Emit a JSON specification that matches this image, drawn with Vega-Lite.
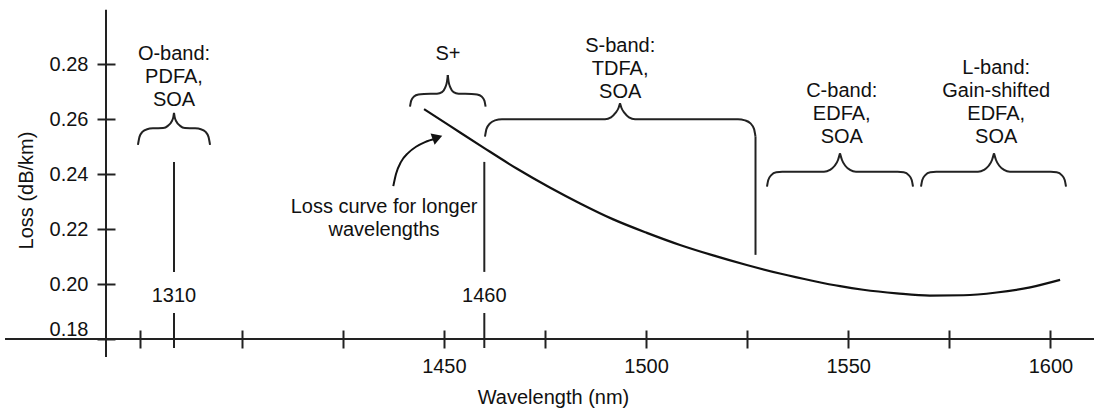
{
  "$schema": "https://vega.github.io/schema/vega-lite/v6.json",
  "width": 988,
  "height": 330,
  "autosize": {"type": "none"},
  "padding": {"left": 106, "top": 9, "right": 0, "bottom": 74},
  "background": "white",
  "config": {"view": {"stroke": null}, "font": "Liberation Sans"},
  "datasets": {
    "curve": [
      {"wavelength": 1445.1, "loss": 0.2636},
      {"wavelength": 1451.5, "loss": 0.2575},
      {"wavelength": 1459.8, "loss": 0.2496},
      {"wavelength": 1468.0, "loss": 0.2420},
      {"wavelength": 1476.2, "loss": 0.2351},
      {"wavelength": 1483.7, "loss": 0.2293},
      {"wavelength": 1491.9, "loss": 0.2235},
      {"wavelength": 1500.2, "loss": 0.2186},
      {"wavelength": 1508.4, "loss": 0.2142},
      {"wavelength": 1516.6, "loss": 0.2104},
      {"wavelength": 1524.9, "loss": 0.2069},
      {"wavelength": 1533.1, "loss": 0.2038},
      {"wavelength": 1541.4, "loss": 0.2011},
      {"wavelength": 1548.0, "loss": 0.1992},
      {"wavelength": 1553.7, "loss": 0.1979},
      {"wavelength": 1562.0, "loss": 0.1966},
      {"wavelength": 1570.2, "loss": 0.1958},
      {"wavelength": 1578.5, "loss": 0.1959},
      {"wavelength": 1586.7, "loss": 0.1969},
      {"wavelength": 1595.0, "loss": 0.1988},
      {"wavelength": 1602.4, "loss": 0.2015}
    ],
    "braces": [
      {"part": "O-L", "i": 0, "wavelength": 1299.4, "loss": 0.2506},
      {"part": "O-L", "i": 1, "wavelength": 1299.85, "loss": 0.2535},
      {"part": "O-L", "i": 2, "wavelength": 1300.7, "loss": 0.2553},
      {"part": "O-L", "i": 3, "wavelength": 1302.1, "loss": 0.2563},
      {"part": "O-L", "i": 4, "wavelength": 1303.8, "loss": 0.2566},
      {"part": "O-L", "i": 5, "wavelength": 1306.8, "loss": 0.2567},
      {"part": "O-L", "i": 6, "wavelength": 1308.2, "loss": 0.2575},
      {"part": "O-L", "i": 7, "wavelength": 1309.3, "loss": 0.2591},
      {"part": "O-L", "i": 8, "wavelength": 1309.8, "loss": 0.2607},
      {"part": "O-L", "i": 9, "wavelength": 1310.0, "loss": 0.2622},
      {"part": "O-R", "i": 0, "wavelength": 1310.0, "loss": 0.2622},
      {"part": "O-R", "i": 1, "wavelength": 1310.2, "loss": 0.2607},
      {"part": "O-R", "i": 2, "wavelength": 1310.7, "loss": 0.2591},
      {"part": "O-R", "i": 3, "wavelength": 1311.8, "loss": 0.2575},
      {"part": "O-R", "i": 4, "wavelength": 1313.2, "loss": 0.2567},
      {"part": "O-R", "i": 5, "wavelength": 1316.2, "loss": 0.2566},
      {"part": "O-R", "i": 6, "wavelength": 1317.9, "loss": 0.2563},
      {"part": "O-R", "i": 7, "wavelength": 1319.3, "loss": 0.2553},
      {"part": "O-R", "i": 8, "wavelength": 1320.15, "loss": 0.2535},
      {"part": "O-R", "i": 9, "wavelength": 1320.6, "loss": 0.2506},
      {"part": "SP-L", "i": 0, "wavelength": 1441.62, "loss": 0.2645},
      {"part": "SP-L", "i": 1, "wavelength": 1441.92, "loss": 0.2667},
      {"part": "SP-L", "i": 2, "wavelength": 1442.61, "loss": 0.2682},
      {"part": "SP-L", "i": 3, "wavelength": 1443.72, "loss": 0.2689},
      {"part": "SP-L", "i": 4, "wavelength": 1445.08, "loss": 0.2691},
      {"part": "SP-L", "i": 5, "wavelength": 1448.30, "loss": 0.2692},
      {"part": "SP-L", "i": 6, "wavelength": 1449.54, "loss": 0.2698},
      {"part": "SP-L", "i": 7, "wavelength": 1450.35, "loss": 0.2715},
      {"part": "SP-L", "i": 8, "wavelength": 1450.77, "loss": 0.2736},
      {"part": "SP-L", "i": 9, "wavelength": 1450.97, "loss": 0.2760},
      {"part": "SP-R", "i": 0, "wavelength": 1450.97, "loss": 0.2760},
      {"part": "SP-R", "i": 1, "wavelength": 1451.17, "loss": 0.2736},
      {"part": "SP-R", "i": 2, "wavelength": 1451.59, "loss": 0.2715},
      {"part": "SP-R", "i": 3, "wavelength": 1452.40, "loss": 0.2698},
      {"part": "SP-R", "i": 4, "wavelength": 1453.64, "loss": 0.2692},
      {"part": "SP-R", "i": 5, "wavelength": 1456.86, "loss": 0.2691},
      {"part": "SP-R", "i": 6, "wavelength": 1458.22, "loss": 0.2689},
      {"part": "SP-R", "i": 7, "wavelength": 1459.33, "loss": 0.2682},
      {"part": "SP-R", "i": 8, "wavelength": 1460.02, "loss": 0.2667},
      {"part": "SP-R", "i": 9, "wavelength": 1460.32, "loss": 0.2645},
      {"part": "S-L", "i": 0, "wavelength": 1460.17, "loss": 0.2536},
      {"part": "S-L", "i": 1, "wavelength": 1460.54, "loss": 0.2564},
      {"part": "S-L", "i": 2, "wavelength": 1461.41, "loss": 0.2584},
      {"part": "S-L", "i": 3, "wavelength": 1462.64, "loss": 0.2595},
      {"part": "S-L", "i": 4, "wavelength": 1464.37, "loss": 0.2599},
      {"part": "S-L", "i": 5, "wavelength": 1489.85, "loss": 0.2599},
      {"part": "S-L", "i": 6, "wavelength": 1491.33, "loss": 0.2606},
      {"part": "S-L", "i": 7, "wavelength": 1492.44, "loss": 0.2622},
      {"part": "S-L", "i": 8, "wavelength": 1493.19, "loss": 0.2640},
      {"part": "S-L", "i": 9, "wavelength": 1493.56, "loss": 0.2657},
      {"part": "S-R", "i": 0, "wavelength": 1493.56, "loss": 0.2657},
      {"part": "S-R", "i": 1, "wavelength": 1493.93, "loss": 0.2640},
      {"part": "S-R", "i": 2, "wavelength": 1494.67, "loss": 0.2622},
      {"part": "S-R", "i": 3, "wavelength": 1495.78, "loss": 0.2606},
      {"part": "S-R", "i": 4, "wavelength": 1497.27, "loss": 0.2599},
      {"part": "S-R", "i": 5, "wavelength": 1522.74, "loss": 0.2599},
      {"part": "S-R", "i": 6, "wavelength": 1524.47, "loss": 0.2595},
      {"part": "S-R", "i": 7, "wavelength": 1525.83, "loss": 0.2584},
      {"part": "S-R", "i": 8, "wavelength": 1526.70, "loss": 0.2564},
      {"part": "S-R", "i": 9, "wavelength": 1527.07, "loss": 0.2536},
      {"part": "C-L", "i": 0, "wavelength": 1529.91, "loss": 0.2354},
      {"part": "C-L", "i": 1, "wavelength": 1530.23, "loss": 0.2378},
      {"part": "C-L", "i": 2, "wavelength": 1530.97, "loss": 0.2396},
      {"part": "C-L", "i": 3, "wavelength": 1532.21, "loss": 0.2406},
      {"part": "C-L", "i": 4, "wavelength": 1533.70, "loss": 0.2408},
      {"part": "C-L", "i": 5, "wavelength": 1544.01, "loss": 0.2408},
      {"part": "C-L", "i": 6, "wavelength": 1545.49, "loss": 0.2415},
      {"part": "C-L", "i": 7, "wavelength": 1546.60, "loss": 0.2429},
      {"part": "C-L", "i": 8, "wavelength": 1547.47, "loss": 0.2451},
      {"part": "C-L", "i": 9, "wavelength": 1547.96, "loss": 0.2475},
      {"part": "C-R", "i": 0, "wavelength": 1547.96, "loss": 0.2475},
      {"part": "C-R", "i": 1, "wavelength": 1548.46, "loss": 0.2451},
      {"part": "C-R", "i": 2, "wavelength": 1549.32, "loss": 0.2429},
      {"part": "C-R", "i": 3, "wavelength": 1550.44, "loss": 0.2415},
      {"part": "C-R", "i": 4, "wavelength": 1551.92, "loss": 0.2408},
      {"part": "C-R", "i": 5, "wavelength": 1562.23, "loss": 0.2408},
      {"part": "C-R", "i": 6, "wavelength": 1563.72, "loss": 0.2406},
      {"part": "C-R", "i": 7, "wavelength": 1564.95, "loss": 0.2396},
      {"part": "C-R", "i": 8, "wavelength": 1565.70, "loss": 0.2378},
      {"part": "C-R", "i": 9, "wavelength": 1566.02, "loss": 0.2354},
      {"part": "L-L", "i": 0, "wavelength": 1568.00, "loss": 0.2354},
      {"part": "L-L", "i": 1, "wavelength": 1568.32, "loss": 0.2378},
      {"part": "L-L", "i": 2, "wavelength": 1569.06, "loss": 0.2396},
      {"part": "L-L", "i": 3, "wavelength": 1570.30, "loss": 0.2406},
      {"part": "L-L", "i": 4, "wavelength": 1571.78, "loss": 0.2408},
      {"part": "L-L", "i": 5, "wavelength": 1582.09, "loss": 0.2408},
      {"part": "L-L", "i": 6, "wavelength": 1583.58, "loss": 0.2415},
      {"part": "L-L", "i": 7, "wavelength": 1584.69, "loss": 0.2429},
      {"part": "L-L", "i": 8, "wavelength": 1585.56, "loss": 0.2451},
      {"part": "L-L", "i": 9, "wavelength": 1586.05, "loss": 0.2475},
      {"part": "L-R", "i": 0, "wavelength": 1586.05, "loss": 0.2475},
      {"part": "L-R", "i": 1, "wavelength": 1586.55, "loss": 0.2451},
      {"part": "L-R", "i": 2, "wavelength": 1587.41, "loss": 0.2429},
      {"part": "L-R", "i": 3, "wavelength": 1588.53, "loss": 0.2415},
      {"part": "L-R", "i": 4, "wavelength": 1590.01, "loss": 0.2408},
      {"part": "L-R", "i": 5, "wavelength": 1600.07, "loss": 0.2408},
      {"part": "L-R", "i": 6, "wavelength": 1601.56, "loss": 0.2406},
      {"part": "L-R", "i": 7, "wavelength": 1602.79, "loss": 0.2396},
      {"part": "L-R", "i": 8, "wavelength": 1603.54, "loss": 0.2378},
      {"part": "L-R", "i": 9, "wavelength": 1603.86, "loss": 0.2354}
    ],
    "rules": [
      {"item": "x axis", "wavelength": 1260.3, "wavelength2": 1610.8, "loss": 0.18, "loss2": 0.18},
      {"item": "y axis", "wavelength": 1290, "wavelength2": 1290, "loss": 0.17345, "loss2": 0.2997},
      {"item": "1310 line", "wavelength": 1310, "wavelength2": 1310, "loss": 0.2044, "loss2": 0.2444},
      {"item": "1460 line", "wavelength": 1460, "wavelength2": 1460, "loss": 0.2044, "loss2": 0.2444},
      {"item": "1310 tick", "wavelength": 1310, "wavelength2": 1310, "loss": 0.17673, "loss2": 0.18945},
      {"item": "1460 tick", "wavelength": 1460, "wavelength2": 1460, "loss": 0.17673, "loss2": 0.18945},
      {"item": "S-band end", "wavelength": 1527.07, "wavelength2": 1527.07, "loss": 0.2106, "loss2": 0.2536}
    ],
    "labels": [
      {"label": "O-band:\nPDFA,\nSOA", "wavelength": 1310, "loss": 0.2815},
      {"label": "S+", "wavelength": 1451, "loss": 0.2815},
      {"label": "S-band:\nTDFA,\nSOA", "wavelength": 1493.6, "loss": 0.2845},
      {"label": "C-band:\nEDFA,\nSOA", "wavelength": 1548.4, "loss": 0.2681},
      {"label": "L-band:\nGain-shifted\nEDFA,\nSOA", "wavelength": 1586.6, "loss": 0.2764},
      {"label": "Loss curve for longer\nwavelengths", "wavelength": 1435.2, "loss": 0.2257},
      {"label": "1310", "wavelength": 1310, "loss": 0.1935},
      {"label": "1460", "wavelength": 1460, "loss": 0.1935}
    ],
    "arrow": [
      {"wavelength": 1437.49, "loss": 0.2356},
      {"wavelength": 1438.16, "loss": 0.2400},
      {"wavelength": 1439.40, "loss": 0.2444},
      {"wavelength": 1441.13, "loss": 0.2476},
      {"wavelength": 1443.11, "loss": 0.2499},
      {"wavelength": 1445.33, "loss": 0.2516},
      {"wavelength": 1448.05, "loss": 0.2529}
    ],
    "arrowhead": [
      {"wavelength": 1448.4, "loss": 0.2533}
    ]
  },
  "encoding": {
    "x": {
      "field": "wavelength",
      "type": "quantitative",
      "scale": {"domain": [1290, 1325, 1400, 1600], "range": [0, 119, 135.7, 944.4], "nice": false, "zero": false},
      "axis": {
        "values": [1300, 1400, 1425, 1450, 1475, 1500, 1525, 1550, 1575, 1600],
        "labelExpr": "(datum.value >= 1450 && datum.value % 50 == 0) ? datum.label : ''",
        "format": "d",
        "offset": -9,
        "tickSize": 18,
        "tickWidth": 2,
        "tickColor": "#222222",
        "domain": false,
        "grid": false,
        "labelPadding": 8,
        "labelFontSize": 20,
        "labelColor": "#111111",
        "labelFlush": false,
        "labelOverlap": false,
        "title": "Wavelength (nm)",
        "titleFontSize": 20,
        "titleFontWeight": "normal",
        "titleColor": "#111111",
        "titleX": 447,
        "titleY": 67,
        "titleAlign": "center",
        "titleBaseline": "middle"
      }
    },
    "y": {
      "field": "loss",
      "type": "quantitative",
      "scale": {"domain": [0.18, 0.30], "nice": false, "zero": false},
      "axis": {
        "values": [0.18, 0.20, 0.22, 0.24, 0.26, 0.28],
        "format": ".2f",
        "offset": -9,
        "tickSize": 18,
        "tickWidth": 2,
        "tickColor": "#222222",
        "domain": false,
        "grid": false,
        "labelPadding": 9,
        "labelFontSize": 20,
        "labelColor": "#111111",
        "labelBaseline": {"condition": {"test": "datum.value < 0.19", "value": "bottom"}, "value": "middle"},
        "labelOverlap": false,
        "labelFlush": false,
        "title": "Loss (dB/km)",
        "titleFontSize": 20,
        "titleFontWeight": "normal",
        "titleColor": "#111111",
        "titleX": -89,
        "titleY": 181,
        "titleAngle": 270,
        "titleAlign": "center",
        "titleBaseline": "middle"
      }
    }
  },
  "layer": [
    {
      "data": {"name": "rules"},
      "mark": {"type": "rule", "color": "#222222", "strokeWidth": 2},
      "encoding": {"x2": {"field": "wavelength2"}, "y2": {"field": "loss2"}}
    },
    {
      "data": {"name": "braces"},
      "mark": {"type": "line", "color": "#222222", "strokeWidth": 2, "interpolate": "monotone"},
      "encoding": {"detail": {"field": "part"}, "order": {"field": "i", "type": "quantitative"}}
    },
    {
      "data": {"name": "curve"},
      "mark": {"type": "line", "color": "#111111", "strokeWidth": 2.2, "interpolate": "monotone"},
      "encoding": {}
    },
    {
      "data": {"name": "arrow"},
      "mark": {"type": "line", "color": "#111111", "strokeWidth": 2, "interpolate": "monotone"},
      "encoding": {}
    },
    {
      "data": {"name": "arrowhead"},
      "mark": {"type": "point", "shape": "triangle-right", "filled": true, "color": "#111111", "size": 140, "angle": -20, "opacity": 1},
      "encoding": {}
    },
    {
      "data": {"name": "labels"},
      "mark": {"type": "text", "align": "center", "baseline": "alphabetic", "fontSize": 20, "lineHeight": 23, "lineBreak": "\n", "color": "#111111", "font": "Liberation Sans"},
      "encoding": {"text": {"field": "label"}}
    }
  ]
}
